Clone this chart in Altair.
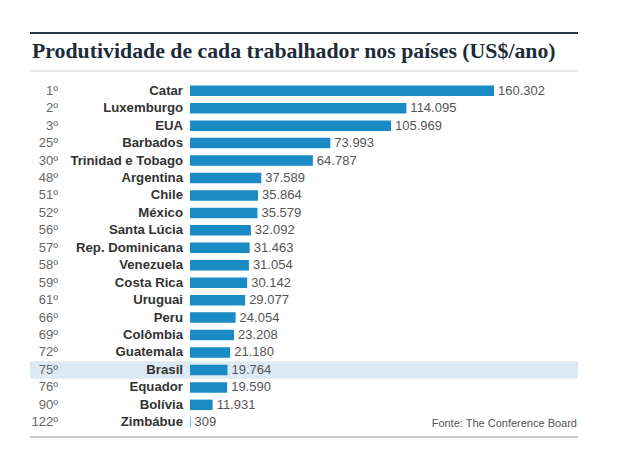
import altair as alt
import pandas as pd

ranks = ["1º", "2º", "3º", "25º", "30º", "48º", "51º", "52º", "56º", "57º",
         "58º", "59º", "61º", "66º", "69º", "72º", "75º", "76º", "90º", "122º"]
countries = ["Catar", "Luxemburgo", "EUA", "Barbados", "Trinidad e Tobago",
             "Argentina", "Chile", "México", "Santa Lúcia", "Rep. Dominicana",
             "Venezuela", "Costa Rica", "Uruguai", "Peru", "Colômbia",
             "Guatemala", "Brasil", "Equador", "Bolívia", "Zimbábue"]
values = [160302, 114095, 105969, 73993, 64787, 37589, 35864, 35579, 32092, 31463,
          31054, 30142, 29077, 24054, 23208, 21180, 19764, 19590, 11931, 309]
highlight = "Brasil"
title_text = "Produtividade de cada trabalhador nos países (US$/ano)"
source_text = "Fonte: The Conference Board"


def fmt(v):
    return f"{v:,}".replace(",", ".")


df = pd.DataFrame({
    "rank": ranks,
    "country": countries,
    "value": values,
    "label": [fmt(v) for v in values],
})

y_enc = alt.Y("country:N", sort=countries, axis=None,
              scale=alt.Scale(paddingInner=0.36, paddingOuter=0.18))
x_scale = alt.Scale(domain=[0, max(values)], nice=False, zero=True)

base = alt.Chart(df)

band = base.transform_filter(alt.datum.country == highlight).mark_bar(
    size=17.45, color="#deeaf3"
).encode(y=y_enc, x=alt.value(-160), x2=alt.value(388))

bars = base.mark_bar(size=10.5, color="#1a8bc4").encode(
    y=y_enc, x=alt.X("value:Q", scale=x_scale, axis=None)
)

vals = base.mark_text(align="left", baseline="middle", dx=4, fontSize=13,
                      font="Liberation Sans", color="#555555").encode(
    y=y_enc, x=alt.X("value:Q", scale=x_scale, axis=None), text="label:N"
)

names = base.mark_text(align="right", baseline="middle", fontSize=13.2,
                       fontWeight="bold", font="Liberation Sans",
                       color="#333333").encode(
    y=y_enc, x=alt.value(-7), text="country:N"
)

rk = base.mark_text(align="right", baseline="middle", fontSize=13,
                    font="Liberation Sans", color="#666666").encode(
    y=y_enc, x=alt.value(-132), text="rank:N"
)

one = alt.Chart(pd.DataFrame({"t": [title_text], "s": [source_text]}))

title = one.mark_text(align="left", baseline="alphabetic", fontSize=21.8,
                      fontWeight="bold", font="Liberation Serif",
                      color="#1e2c3a").encode(
    x=alt.value(-158), y=alt.value(-24), text="t:N"
)

source = one.mark_text(align="right", baseline="middle", fontSize=11,
                       font="Liberation Sans", color="#555555").encode(
    x=alt.value(387), y=alt.value(342), text="s:N"
)

top_line = one.mark_rule(color="#2b3742", strokeWidth=2).encode(
    x=alt.value(-160), x2=alt.value(388), y=alt.value(-49)
)
mid_line = one.mark_rule(color="#d4d4d4", strokeWidth=1).encode(
    x=alt.value(-160), x2=alt.value(388), y=alt.value(-11)
)
bot_line = one.mark_rule(color="#cccccc", strokeWidth=2).encode(
    x=alt.value(-160), x2=alt.value(388), y=alt.value(355)
)

chart = alt.layer(
    band, top_line, mid_line, bot_line, bars, vals, names, rk, title, source
).properties(
    width=304, height=349,
    autosize=alt.AutoSizeParams(type="none"),
    padding={"left": 182, "top": 74, "right": 128, "bottom": 20},
).configure(background="white").configure_view(stroke=None)

chart.save("out.html", embed_options={"renderer": "svg", "actions": False})
